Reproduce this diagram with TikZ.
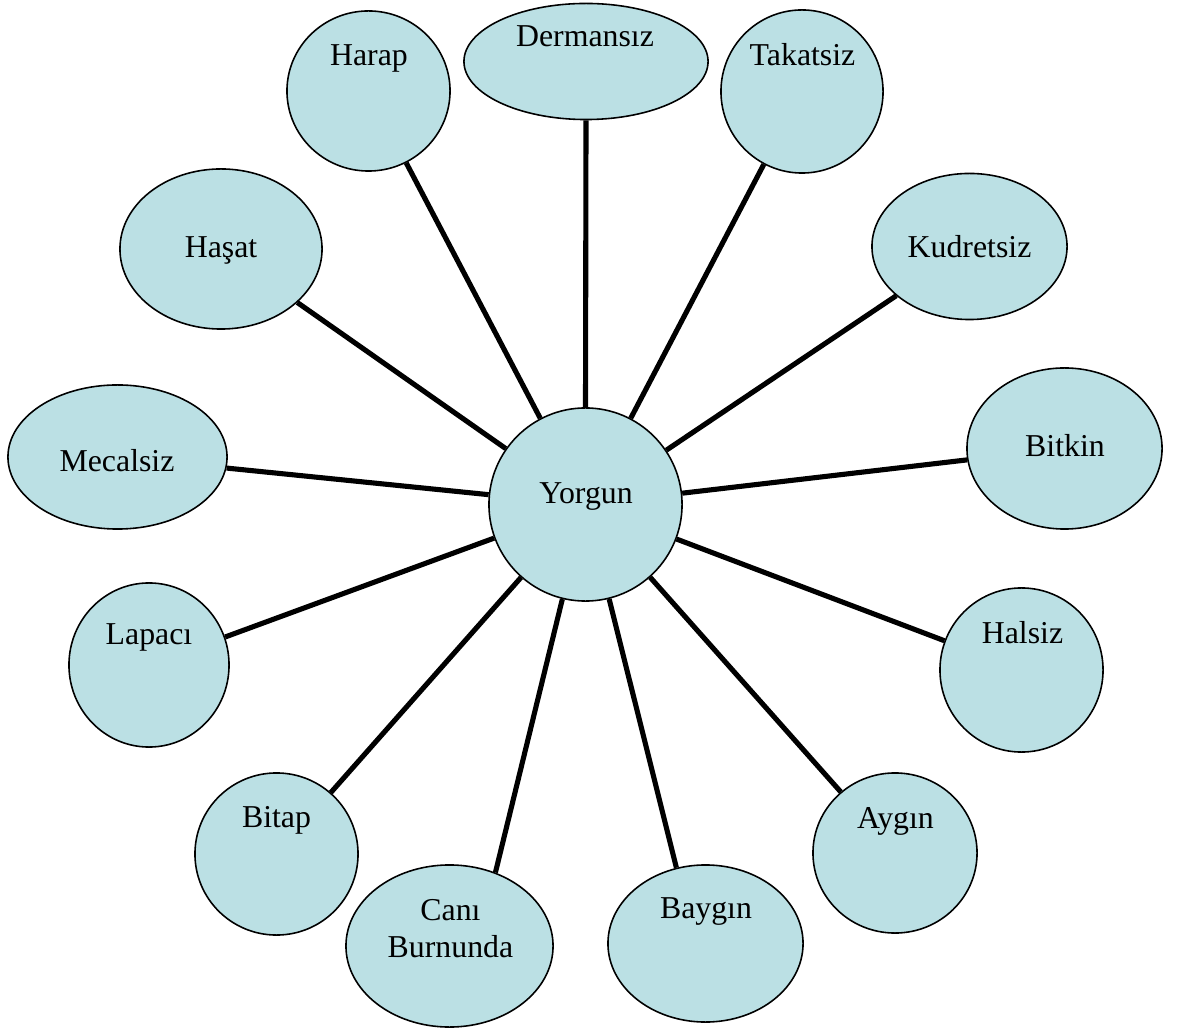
\documentclass[tikz,border=0pt]{standalone}
\usepackage{fontspec}
\setmainfont{Liberation Serif}
\usetikzlibrary{shapes.geometric}
\definecolor{bubfill}{RGB}{187,224,228}
\tikzset{
  bub/.style={ellipse, draw=black, line width=0.45pt, fill=bubfill, inner sep=0pt},
  lab/.style={anchor=base, inner sep=0pt, font=\fontsize{9.05}{10.5}\selectfont},
  spoke/.style={line width=1.45pt, black}
}
\begin{document}
\begin{tikzpicture}[x=0.01cm, y=-0.01cm]
\useasboundingbox (0,0) rectangle (1185,1031);
% bubbles
\node[bub, minimum width=1.93cm, minimum height=1.93cm] (yorgun) at (585.5,504.5) {};
\node[bub, minimum width=1.63cm, minimum height=1.60cm] (harap) at (368.5,91) {};
\node[bub, minimum width=2.44cm, minimum height=1.16cm] (dermansiz) at (586,61.5) {};
\node[bub, minimum width=1.62cm, minimum height=1.63cm] (takatsiz) at (802,91.5) {};
\node[bub, minimum width=1.95cm, minimum height=1.46cm] (kudretsiz) at (969.5,246.5) {};
\node[bub, minimum width=1.95cm, minimum height=1.61cm] (bitkin) at (1064.5,448.5) {};
\node[bub, minimum width=1.63cm, minimum height=1.64cm] (halsiz) at (1021.5,670) {};
\node[bub, minimum width=1.64cm, minimum height=1.60cm] (aygin) at (895,853) {};
\node[bub, minimum width=1.95cm, minimum height=1.57cm] (baygin) at (705.5,943.5) {};
\node[bub, minimum width=2.07cm, minimum height=1.62cm] (cani) at (449.5,946) {};
\node[bub, minimum width=1.63cm, minimum height=1.62cm] (bitap) at (276.5,854) {};
\node[bub, minimum width=1.60cm, minimum height=1.64cm] (lapaci) at (149,665) {};
\node[bub, minimum width=2.19cm, minimum height=1.44cm] (mecalsiz) at (117.5,457) {};
\node[bub, minimum width=2.02cm, minimum height=1.60cm] (hasat) at (221,249) {};
% spokes
\draw[spoke] (yorgun) -- (harap);
\draw[spoke] (yorgun.90) -- (dermansiz.south);
\draw[spoke] (yorgun) -- (takatsiz);
\draw[spoke] (yorgun) -- (kudretsiz);
\draw[spoke] (yorgun) -- (bitkin);
\draw[spoke] (yorgun) -- (halsiz);
\draw[spoke] (yorgun) -- (aygin);
\draw[spoke] (yorgun) -- (baygin.111.7);
\draw[spoke] (yorgun) -- (cani.58);
\draw[spoke] (yorgun) -- (bitap);
\draw[spoke] (yorgun) -- (lapaci);
\draw[spoke] (yorgun) -- (mecalsiz);
\draw[spoke] (yorgun) -- (hasat);
% labels
\node[lab] (yorgunT) at (586,504) {Yorgun};
\node[lab] (harapT) at (369,66) {Harap};
\node[lab] (dermansizT) at (585,47) {Dermansız};
\node[lab] (takatsizT) at (802.5,66) {Takatsiz};
\node[lab] (kudretsizT) at (969.5,258) {Kudretsiz};
\node[lab] (bitkinT) at (1065,457) {Bitkin};
\node[lab] (halsizT) at (1022.5,643) {Halsiz};
\node[lab] (ayginT) at (895.5,828) {Aygın};
\node[lab] (bayginT) at (706,918) {Baygın};
\node[lab] (caniT) at (450.5,920) {Canı};
\node[lab] (burnundaT) at (450.5,957) {Burnunda};
\node[lab] (bitapT) at (276.5,827) {Bitap};
\node[lab] (lapaciT) at (149,645) {Lapacı};
\node[lab] (mecalsizT) at (117,472) {Mecalsiz};
\node[lab] (hasatT) at (221,258) {Haşat};
\end{tikzpicture}
\end{document}
